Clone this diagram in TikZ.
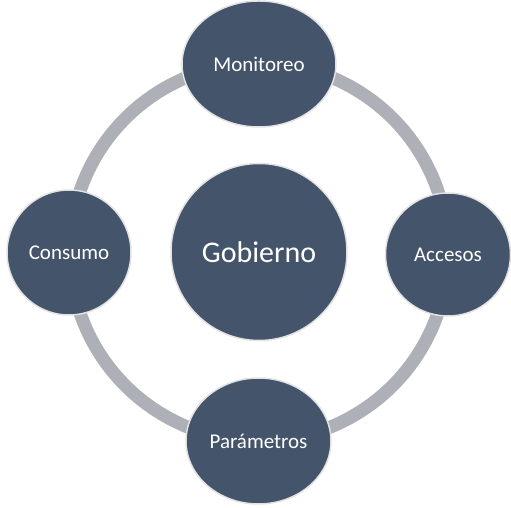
\documentclass[tikz,border=0pt]{standalone}
\usepackage{fontspec}
\setmainfont{Carlito}
\usetikzlibrary{shapes.geometric}
\definecolor{slate}{HTML}{44546A}
\definecolor{ringgray}{HTML}{ADB0B7}
\definecolor{rimgray}{HTML}{E2E2E2}
\begin{document}
\begin{tikzpicture}[x=1pt,y=1pt,
  part/.style={ellipse,draw=rimgray,line width=1.5pt,fill=slate,text=white,inner sep=0pt,font=\fontsize{21}{25}\selectfont}]
\useasboundingbox (0,0) rectangle (511,508);
\draw[ringgray,line width=13pt] (259,256) circle (189);
\node[part,minimum width=176pt,minimum height=177pt,font=\fontsize{30}{36}\selectfont] (gob) at (259,256) {Gobierno};
\node[part,minimum width=154pt,minimum height=126pt] (mon) at (259,444) {Monitoreo};
\node[part,minimum width=125pt,minimum height=123pt] (acc) at (448,253.5) {Accesos};
\node[part,minimum width=145pt,minimum height=126pt] (par) at (258.5,67) {Parámetros};
\node[part,minimum width=124pt,minimum height=125pt] (con) at (69,255.5) {Consumo};
\end{tikzpicture}
\end{document}
